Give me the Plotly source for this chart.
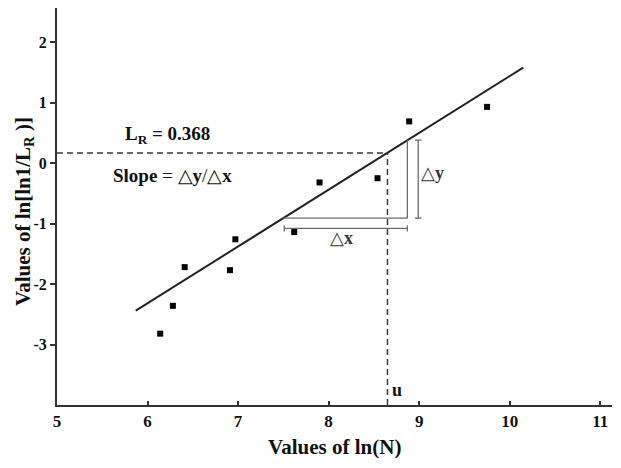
import plotly.graph_objects as go

# ---- data ----
ln_N = [6.14, 6.28, 6.41, 6.91, 6.97, 7.62, 7.90, 8.54, 8.89, 9.75]
ln_ln = [-2.82, -2.36, -1.72, -1.77, -1.26, -1.14, -0.32, -0.25, 0.69, 0.93]

fit_x = [5.87, 10.15]
fit_y = [-2.44, 1.58]

u_x = 8.65
lr_y = 0.166

x_ticks = [5, 6, 7, 8, 9, 10, 11]
y_ticks = [-3, -2, -1, 0, 1, 2]

tri_left_x = 7.50
tri_right_x = 8.87
tri_low_y = -0.91
tri_top_y = 0.38
dx_line_y = -1.08
dx_left_x = 7.51
dy_line_x = 8.99

FONT = "Liberation Serif, Times New Roman, serif"
DARK = "#222222"
GREY = "#6b6b6b"

fig = go.Figure()

fig.add_trace(go.Scatter(
    x=fit_x, y=fit_y, mode="lines",
    line=dict(color=DARK, width=2), showlegend=False, hoverinfo="skip"))

fig.add_trace(go.Scatter(
    x=ln_N, y=ln_ln, mode="markers",
    marker=dict(symbol="square", size=6, color="black"),
    showlegend=False))

shapes = []
# dashed reference lines
shapes.append(dict(type="line", xref="x", yref="y", x0=5, x1=u_x, y0=lr_y, y1=lr_y,
                   line=dict(color="#3a3a3a", width=1.5, dash="6px,4px")))
shapes.append(dict(type="line", xref="x", yref="y", x0=u_x, x1=u_x, y0=-4, y1=lr_y,
                   line=dict(color="#3a3a3a", width=1.5, dash="6px,4px")))
# slope triangle
shapes.append(dict(type="line", xref="x", yref="y", x0=tri_left_x, x1=tri_right_x,
                   y0=tri_low_y, y1=tri_low_y, line=dict(color=GREY, width=1.3)))
shapes.append(dict(type="line", xref="x", yref="y", x0=tri_right_x, x1=tri_right_x,
                   y0=tri_low_y, y1=tri_top_y, line=dict(color=GREY, width=1.3)))
# delta-x dimension line
shapes.append(dict(type="line", xref="x", yref="y", x0=dx_left_x, x1=tri_right_x,
                   y0=dx_line_y, y1=dx_line_y, line=dict(color=GREY, width=1.3)))
for xv in [dx_left_x, tri_right_x]:
    shapes.append(dict(type="line", xref="x", yref="y", x0=xv, x1=xv,
                       y0=dx_line_y - 0.05, y1=dx_line_y + 0.05,
                       line=dict(color=GREY, width=1.3)))
# delta-y dimension line
shapes.append(dict(type="line", xref="x", yref="y", x0=dy_line_x, x1=dy_line_x,
                   y0=tri_low_y, y1=tri_top_y, line=dict(color=GREY, width=1.3)))
for yv in [tri_low_y, tri_top_y]:
    shapes.append(dict(type="line", xref="x", yref="y", x0=dy_line_x - 0.035, x1=dy_line_x + 0.035,
                       y0=yv, y1=yv, line=dict(color=GREY, width=1.3)))

annotations = [
    dict(x=6.22, y=0.47, xref="x", yref="y", showarrow=False,
         text="<b>L<sub>R</sub> = 0.368</b>", font=dict(family=FONT, size=19, color="#111")),
    dict(x=6.28, y=-0.2, xref="x", yref="y", showarrow=False,
         text="<b>Slope</b> = △<b>y</b>/△<b>x</b>", font=dict(family=FONT, size=19, color="#111")),
    dict(x=8.14, y=-1.24, xref="x", yref="y", showarrow=False,
         text="△<b>x</b>", font=dict(family=FONT, size=18, color="#333")),
    dict(x=9.15, y=-0.17, xref="x", yref="y", showarrow=False,
         text="△<b>y</b>", font=dict(family=FONT, size=18, color="#333")),
    dict(x=8.76, y=-3.75, xref="x", yref="y", showarrow=False,
         text="<b>u</b>", font=dict(family=FONT, size=18, color="#111")),
    # axis titles
    dict(x=0.5, y=0, xref="paper", yref="paper", yshift=-42, showarrow=False,
         xanchor="center", yanchor="middle",
         text="<b>Values of ln(N)</b>", font=dict(family=FONT, size=21, color="#111")),
    dict(x=0, y=0.486, xref="paper", yref="paper", xshift=-33, showarrow=False,
         xanchor="center", yanchor="middle", textangle=-90,
         text="<b>Values of ln[ln1/L<sub>R</sub> )]</b>", font=dict(family=FONT, size=21, color="#111")),
]

fig.update_layout(
    width=621, height=468,
    margin=dict(l=49, r=17, t=0, b=71),
    paper_bgcolor="white", plot_bgcolor="white",
    shapes=shapes, annotations=annotations,
    font=dict(family=FONT, color="#111"),
    xaxis=dict(
        range=[5, 11.13], tickvals=x_ticks, ticktext=[f"<b>{v}</b>" for v in x_ticks],
        showgrid=False, zeroline=False, showline=True, linecolor="#333", linewidth=2,
        ticks="inside", ticklen=4, tickwidth=2, tickcolor="#333",
        tickfont=dict(family=FONT, size=17, color="#111"),
        ticklabelstandoff=0, automargin=False,
    ),
    yaxis=dict(
        range=[-4, 2.565], tickvals=y_ticks, ticktext=[f"<b>{v}</b>" for v in y_ticks],
        showgrid=False, zeroline=False, showline=True, linecolor="#333", linewidth=2,
        ticks="outside", ticklen=5, tickwidth=2, tickcolor="#333",
        tickfont=dict(family=FONT, size=16, color="#111"),
        automargin=False,
    ),
)

fig.write_html("out.html")
